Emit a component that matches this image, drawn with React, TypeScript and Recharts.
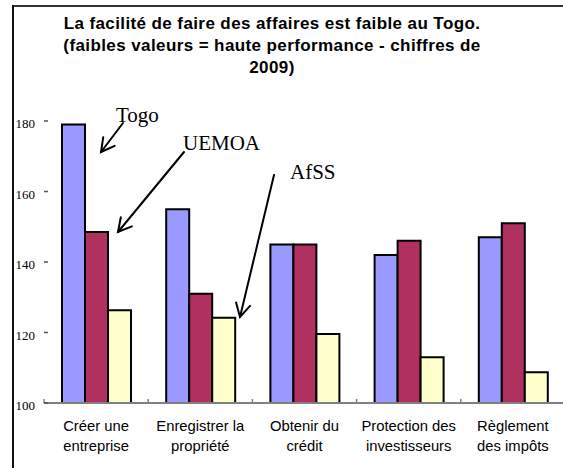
import React from 'react';
import { BarChart, Bar, XAxis, YAxis } from 'recharts';

const categories = [
  'Créer une\nentreprise',
  'Enregistrer la\npropriété',
  'Obtenir du\ncrédit',
  'Protection des\ninvestisseurs',
  'Règlement\ndes impôts',
];
const togo = [179, 155, 145, 142, 147];
const uemoa = [148.5, 131, 145, 146, 151];
const afss = [126.3, 124.2, 119.6, 113, 108.7];
const yTicks = [100, 120, 140, 160, 180];

const titleLines = [
  'La facilité de faire des affaires est faible au Togo.',
  '(faibles valeurs = haute performance - chiffres de',
  '2009)',
];

const data = categories.map((name, i) => ({
  name,
  togo: togo[i],
  uemoa: uemoa[i],
  afss: afss[i],
}));

const CHART_W = 570;
const PLOT_LEFT = 44;
const PLOT_RIGHT = CHART_W - 5;
const BAND = (PLOT_RIGHT - PLOT_LEFT) / categories.length;

function YTick({ x, y, payload }: any) {
  return (
    <g>
      <line x1={x} x2={x + 4} y1={y} y2={y} stroke="#555" strokeWidth={1.5} />
      <text
        x={x - 9}
        y={y + 7}
        textAnchor="end"
        fontFamily="'Liberation Serif', 'Times New Roman', serif"
        fontSize={13}
        fill="#000"
      >
        {payload.value}
      </text>
    </g>
  );
}

function XTick({ x, y, payload }: any) {
  const lines = String(payload.value).split('\n');
  const left = x - BAND / 2;
  return (
    <g>
      <line x1={left} x2={left} y1={y} y2={y - 4} stroke="#808080" strokeWidth={1.5} />
      {lines.map((l, i) => (
        <text
          key={i}
          x={x}
          y={y + 27.5 + i * 20}
          textAnchor="middle"
          fontFamily="'Liberation Sans', Arial, sans-serif"
          fontSize={14.8}
          fill="#000"
        >
          {l}
        </text>
      ))}
    </g>
  );
}

function Arrow({ x1, y1, x2, y2 }: { x1: number; y1: number; x2: number; y2: number }) {
  const a = Math.atan2(y2 - y1, x2 - x1);
  const len = 15;
  const spread = 0.5;
  const h1 = [x2 - len * Math.cos(a - spread), y2 - len * Math.sin(a - spread)];
  const h2 = [x2 - len * Math.cos(a + spread), y2 - len * Math.sin(a + spread)];
  return (
    <g stroke="#000" strokeWidth={2} fill="none" strokeLinecap="round">
      <line x1={x1} y1={y1} x2={x2} y2={y2} />
      <polyline points={`${h1[0]},${h1[1]} ${x2},${y2} ${h2[0]},${h2[1]}`} />
    </g>
  );
}

export default function App() {
  return (
    <div
      style={{
        position: 'absolute',
        left: 0,
        top: 0,
        width: 563,
        height: 468,
        overflow: 'hidden',
        background: '#fff',
      }}
    >
      <BarChart
        width={CHART_W}
        height={468}
        data={data}
        margin={{ top: 121, right: 5, bottom: 0, left: 0 }}
        barGap={0}
        barSize={23}
      >
        <XAxis
          dataKey="name"
          height={65}
          interval={0}
          tickLine={false}
          tickSize={0}
          tickMargin={0}
          axisLine={{ stroke: '#808080', strokeWidth: 2 }}
          tick={<XTick />}
        />
        <YAxis
          width={44}
          domain={[100, 180]}
          ticks={yTicks}
          axisLine={false}
          tickLine={false}
          tickSize={0}
          tickMargin={0}
          tick={<YTick />}
        />
        <Bar dataKey="togo" fill="#9999FF" stroke="#000" strokeWidth={2} isAnimationActive={false} />
        <Bar dataKey="uemoa" fill="#B03060" stroke="#000" strokeWidth={2} isAnimationActive={false} />
        <Bar dataKey="afss" fill="#FFFFCC" stroke="#000" strokeWidth={2} isAnimationActive={false} />
      </BarChart>
      <svg
        width={563}
        height={468}
        style={{ position: 'absolute', left: 0, top: 0, pointerEvents: 'none' }}
      >
        <line x1={13} y1={6} x2={563} y2={6} stroke="#333" strokeWidth={2} />
        <line x1={13} y1={5} x2={13} y2={468} stroke="#111" strokeWidth={2} />
        {titleLines.map((t, i) => (
          <text
            key={i}
            x={272}
            y={29 + i * 22}
            textAnchor="middle"
            fontFamily="'Liberation Sans', Arial, sans-serif"
            fontWeight="bold"
            fontSize={17}
            letterSpacing={0.4}
            fill="#000"
          >
            {t}
          </text>
        ))}
        <g fontFamily="'Liberation Serif', 'Times New Roman', serif" fontSize={21} fill="#000">
          <text x={116} y={122}>Togo</text>
          <text x={183} y={150}>UEMOA</text>
          <text x={290} y={179}>AfSS</text>
        </g>
        <Arrow x1={123} y1={123} x2={101} y2={152} />
        <Arrow x1={184} y1={152} x2={118} y2={232} />
        <Arrow x1={274} y1={175} x2={240} y2={317} />
      </svg>
    </div>
  );
}
